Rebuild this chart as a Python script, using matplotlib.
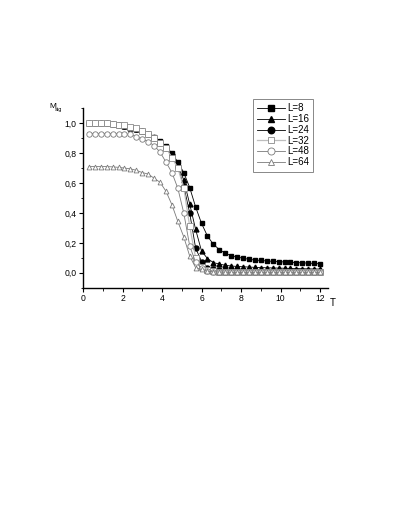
import numpy as np
import matplotlib
matplotlib.use("Agg")
import matplotlib.pyplot as plt
from matplotlib.ticker import MultipleLocator, FuncFormatter

plt.rcParams['font.family'] = ['Liberation Sans', 'DejaVu Sans']

T = [0.3, 0.6, 0.9, 1.2, 1.5, 1.8, 2.1, 2.4, 2.7, 3.0, 3.3, 3.6, 3.9, 4.2, 4.5, 4.8,
     5.1, 5.4, 5.7, 6.0, 6.3, 6.6, 6.9, 7.2, 7.5, 7.8, 8.1, 8.4, 8.7, 9.0, 9.3, 9.6,
     9.9, 10.2, 10.5, 10.8, 11.1, 11.4, 11.7, 12.0]

M_L8 = [1.0, 1.0, 1.0, 1.0, 0.995, 0.99, 0.98, 0.97, 0.96, 0.945, 0.93, 0.91, 0.88, 0.845, 0.80, 0.74,
        0.67, 0.57, 0.44, 0.33, 0.245, 0.19, 0.155, 0.13, 0.115, 0.105, 0.097, 0.09, 0.085, 0.082, 0.079, 0.076,
        0.074, 0.072, 0.07, 0.068, 0.066, 0.064, 0.062, 0.06]
M_L16 = [1.0, 1.0, 1.0, 1.0, 0.995, 0.99, 0.98, 0.97, 0.96, 0.945, 0.93, 0.905, 0.875, 0.84, 0.79, 0.72,
         0.62, 0.46, 0.29, 0.145, 0.095, 0.068, 0.058, 0.05, 0.045, 0.042, 0.04, 0.038, 0.036, 0.035, 0.033, 0.032,
         0.031, 0.03, 0.029, 0.028, 0.027, 0.026, 0.025, 0.025]
M_L24 = [1.0, 1.0, 1.0, 1.0, 0.995, 0.99, 0.98, 0.97, 0.96, 0.945, 0.925, 0.9, 0.87, 0.835, 0.785, 0.71,
         0.58, 0.40, 0.165, 0.075, 0.035, 0.022, 0.017, 0.015, 0.013, 0.012, 0.011, 0.011, 0.01, 0.01, 0.01, 0.01,
         0.01, 0.01, 0.01, 0.01, 0.01, 0.01, 0.01, 0.01]
M_L32 = [1.0, 1.0, 1.0, 1.0, 0.995, 0.99, 0.985, 0.975, 0.965, 0.946, 0.926, 0.90, 0.87, 0.836, 0.77, 0.70,
         0.57, 0.31, 0.10, 0.04, 0.015, 0.01, 0.008, 0.006, 0.005, 0.005, 0.005, 0.004, 0.004, 0.004, 0.004, 0.004,
         0.004, 0.004, 0.004, 0.004, 0.004, 0.004, 0.004, 0.004]
M_L48 = [0.93, 0.93, 0.93, 0.93, 0.93, 0.93, 0.928, 0.925, 0.91, 0.895, 0.877, 0.85, 0.807, 0.74, 0.67, 0.565,
         0.40, 0.18, 0.07, 0.03, 0.012, 0.006, 0.004, 0.003, 0.003, 0.002, 0.002, 0.002, 0.002, 0.002, 0.002, 0.002,
         0.002, 0.002, 0.002, 0.002, 0.002, 0.002, 0.002, 0.002]
M_L64 = [0.71, 0.71, 0.71, 0.71, 0.708, 0.705, 0.70, 0.695, 0.685, 0.67, 0.66, 0.632, 0.605, 0.545, 0.455, 0.343,
         0.24, 0.112, 0.034, 0.022, 0.01, 0.006, 0.004, 0.003, 0.002, 0.002, 0.002, 0.002, 0.002, 0.002, 0.002, 0.002,
         0.002, 0.002, 0.002, 0.002, 0.002, 0.002, 0.002, 0.002]

labels = ["L=8", "L=16", "L=24", "L=32", "L=48", "L=64"]
series = [M_L8, M_L16, M_L24, M_L32, M_L48, M_L64]
styles = [
    dict(marker='s', mfc='black', mec='black', color='black', lw=0.6, ms=3.4),
    dict(marker='^', mfc='black', mec='black', color='black', lw=0.6, ms=3.5),
    dict(marker='o', mfc='black', mec='black', color='black', lw=0.6, ms=3.6),
    dict(marker='s', mfc='white', mec='#8a8a8a', color='#bdbdbd', lw=0.9, ms=3.7, mew=0.6),
    dict(marker='o', mfc='white', mec='#7a7a7a', color='#7a7a7a', lw=0.6, ms=3.9, mew=0.6),
    dict(marker='^', mfc='white', mec='#7a7a7a', color='#7a7a7a', lw=0.6, ms=3.5, mew=0.6),
]

fig = plt.figure(figsize=(4.1, 5.3), dpi=100)
ax = fig.add_axes([0.2024, 0.4572, 0.5976, 0.3385])

for y, lab, st in zip(series, labels, styles):
    ax.plot(T, y, label=lab, **st)

ax.set_xlim(0, 12.4)
ax.set_ylim(-0.1, 1.1)
ax.spines['top'].set_visible(False)
ax.spines['right'].set_visible(False)
for s in ['left', 'bottom']:
    ax.spines[s].set_linewidth(1.0)

ax.xaxis.set_major_locator(MultipleLocator(2))
ax.xaxis.set_minor_locator(MultipleLocator(1))
ax.yaxis.set_major_locator(MultipleLocator(0.2))
ax.yaxis.set_minor_locator(MultipleLocator(0.1))
ax.set_yticks([0.0, 0.2, 0.4, 0.6, 0.8, 1.0])
ax.yaxis.set_major_formatter(FuncFormatter(lambda v, p: f"{abs(v):.1f}".replace('.', ',')))
ax.tick_params(which='major', direction='out', length=3, width=0.8, labelsize=6.2, pad=1.5)
ax.tick_params(which='minor', direction='out', length=1.8, width=0.6)

fig.text(49/410, 1 - 106.5/530, "M", fontsize=6, ha='left', va='center')
fig.text(54.5/410, 1 - 109.5/530, "stg", fontsize=4, ha='left', va='center')
fig.text(333/410, 1 - 302.5/530, "T", fontsize=7, ha='center', va='center')

leg = ax.legend(loc='upper left', bbox_to_anchor=(253/410, 1 - 99/530), bbox_transform=fig.transFigure,
                fontsize=7, frameon=True, fancybox=False, edgecolor='#888888', framealpha=1,
                handlelength=2.8, handletextpad=0.25, labelspacing=0.08, borderpad=0.45, borderaxespad=0,
                markerscale=1.3)
leg.get_frame().set_linewidth(0.7)

fig.savefig("out.png", dpi=100)
